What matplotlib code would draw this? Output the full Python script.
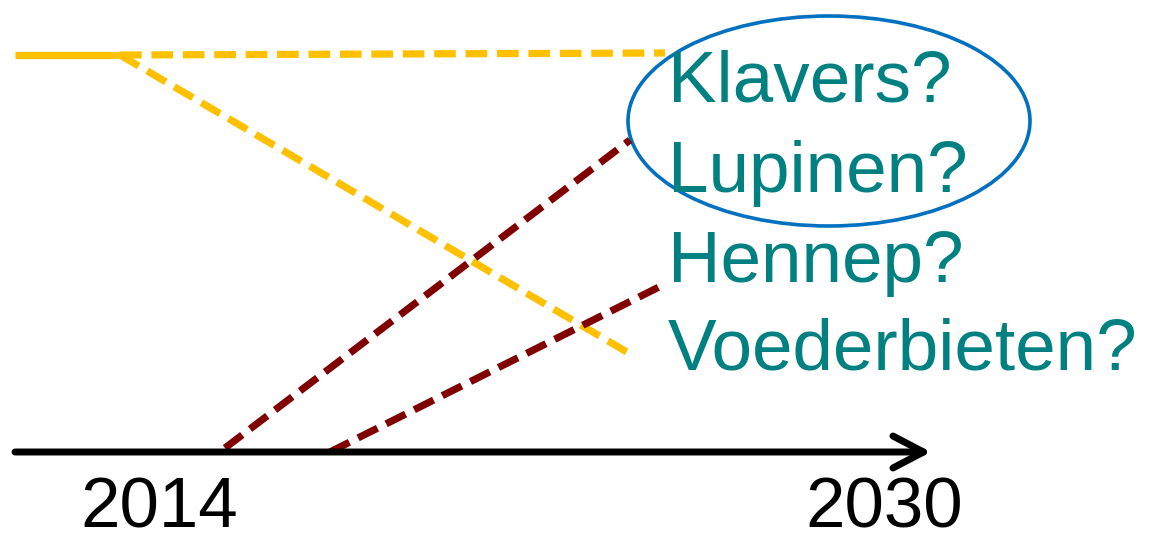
import matplotlib.pyplot as plt
from matplotlib.patches import Ellipse

# line segments in picture units (x, y from top-left)
stay_x = [15, 120]
stay_y = [55, 55]
keep_x = [120, 665]
keep_y = [55, 53]
drop_x = [120, 632]
drop_y = [55, 355]
rise1_x = [225, 630]
rise1_y = [448, 140]
rise2_x = [330, 663]
rise2_y = [452, 285]

crops = ['Klavers?', 'Lupinen?', 'Hennep?', 'Voederbieten?']
crop_y = [102, 192, 282, 370]
years = ['2014', '2030']
year_x = [159, 884]

yellow = '#FFC000'
darkred = '#800000'
teal = '#008080'

fig = plt.figure(figsize=(11.52, 5.43), dpi=100)
ax = fig.add_axes([0, 0, 1, 1])
ax.set_xlim(0, 1152)
ax.set_ylim(543, 0)
ax.axis('off')

lw = 5.2
dash = (0, (3.0, 1.35))
ax.plot(stay_x, stay_y, color=yellow, lw=lw, solid_capstyle='butt')
ax.plot(keep_x, keep_y, color=yellow, lw=lw, linestyle=dash)
ax.plot(drop_x, drop_y, color=yellow, lw=lw, linestyle=dash)
ax.plot(rise1_x, rise1_y, color=darkred, lw=lw, linestyle=dash)
ax.plot(rise2_x, rise2_y, color=darkred, lw=lw, linestyle=dash)

# time axis
ax.annotate('', xy=(931, 452), xytext=(15, 452),
            arrowprops=dict(arrowstyle='->,head_length=2.2,head_width=1.15',
                            color='black', lw=5, shrinkA=0, shrinkB=0))

for label, y in zip(crops, crop_y):
    ax.text(668, y, label, color=teal, fontsize=52.5, family='Liberation Sans',
            ha='left', va='baseline')

for label, x in zip(years, year_x):
    ax.text(x, 527, label, color='black', fontsize=51, family='Liberation Sans',
            ha='center', va='baseline')

ax.add_patch(Ellipse((829, 121), 402, 210, fill=False, edgecolor='#0070C0', lw=2.6))

fig.savefig('out.png', dpi=100)
